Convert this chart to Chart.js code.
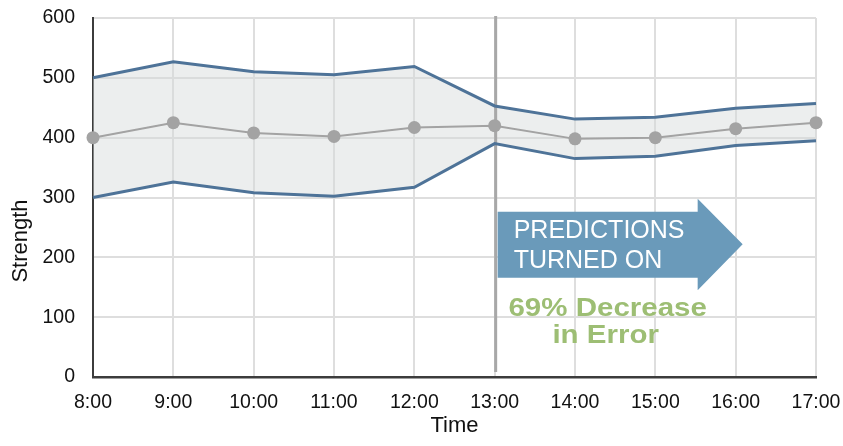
<!DOCTYPE html>
<html>
<head>
<meta charset="utf-8">
<script src="https://cdn.jsdelivr.net/npm/chart.js@4.4.1/dist/chart.umd.min.js"></script>
<style>
  html, body { margin: 0; padding: 0; background: #ffffff; }
  #wrap { width: 843px; height: 446px; position: relative; }
</style>
</head>
<body>
<div id="wrap"><canvas id="chart" width="843" height="446"></canvas></div>
<script>
// Hourly readings
const times = ['8:00', '9:00', '10:00', '11:00', '12:00', '13:00', '14:00', '15:00', '16:00', '17:00'];
const upperBound = [500, 527, 510, 505, 519, 453, 431, 434, 449, 457];
const strength   = [400, 425, 408, 402, 417, 420, 398, 400, 415, 425];
const lowerBound = [300, 326, 308, 302, 317, 390, 365, 369, 387, 395];
const yTicks = [0, 100, 200, 300, 400, 500, 600];

const switchTime = '13:00';
const calloutLines = ['PREDICTIONS', 'TURNED ON'];
const resultLines = ['69% Decrease', 'in Error'];

const FONT = "'Liberation Sans', Arial, sans-serif";
const BAND_LINE = '#4e7398';
const MID_GREY = '#a3a3a3';

// draws text stretched horizontally around its centre
function wideText(ctx, text, cx, baseline, stretch) {
  ctx.save();
  ctx.translate(cx, baseline);
  ctx.scale(stretch, 1);
  ctx.textAlign = 'center';
  ctx.textBaseline = 'alphabetic';
  ctx.fillText(text, 0, 0);
  ctx.restore();
}

// Marker line, arrow callout and axis titles
const overlay = {
  id: 'overlay',
  beforeDatasetsDraw(chart) {
    const { ctx, chartArea, scales: { x } } = chart;
    const xs = x.getPixelForValue(times.indexOf(switchTime));
    // vertical marker at the switch-over hour
    ctx.save();
    ctx.strokeStyle = '#a8a8a8';
    ctx.lineWidth = 3;
    ctx.beginPath();
    ctx.moveTo(xs + 1, chartArea.top - 2);
    ctx.lineTo(xs + 1, chartArea.bottom - 5);
    ctx.stroke();
    ctx.restore();
  },
  afterDatasetsDraw(chart) {
    const { ctx, chartArea, scales: { x, y } } = chart;
    const xs = x.getPixelForValue(times.indexOf(switchTime));
    ctx.save();

    // arrow
    const left = xs + 3;
    const bodyRight = xs + 203;
    const tip = xs + 248;
    ctx.fillStyle = '#6a9aba';
    ctx.beginPath();
    ctx.moveTo(left, y.getPixelForValue(276));
    ctx.lineTo(bodyRight, y.getPixelForValue(276));
    ctx.lineTo(bodyRight, y.getPixelForValue(298));
    ctx.lineTo(tip, y.getPixelForValue(222));
    ctx.lineTo(bodyRight, y.getPixelForValue(145));
    ctx.lineTo(bodyRight, y.getPixelForValue(166));
    ctx.lineTo(left, y.getPixelForValue(166));
    ctx.closePath();
    ctx.fill();

    ctx.fillStyle = '#ffffff';
    ctx.font = '25px ' + FONT;
    ctx.textAlign = 'left';
    ctx.textBaseline = 'alphabetic';
    ctx.fillText(calloutLines[0], xs + 19, 238);
    ctx.fillText(calloutLines[1], xs + 19, 268);

    ctx.fillStyle = '#9dbe74';
    ctx.font = 'bold 25px ' + FONT;
    wideText(ctx, resultLines[0], xs + 113, 316, 1.18);
    wideText(ctx, resultLines[1], xs + 111, 343, 1.18);

    // axis titles
    ctx.fillStyle = '#111111';
    ctx.font = '22px ' + FONT;
    ctx.textAlign = 'center';
    ctx.textBaseline = 'middle';
    ctx.fillText('Time', (chartArea.left + chartArea.right) / 2, 426);
    ctx.translate(21, 241);
    ctx.rotate(-Math.PI / 2);
    ctx.fillText('Strength', 0, 0);
    ctx.restore();
  }
};

new Chart(document.getElementById('chart'), {
  type: 'line',
  data: {
    labels: times,
    datasets: [
      {
        label: 'Upper',
        data: upperBound,
        borderColor: BAND_LINE,
        borderWidth: 3,
        pointRadius: 0,
        tension: 0,
        fill: '+2',
        backgroundColor: 'rgba(213,217,217,0.45)',
        clip: false
      },
      {
        label: 'Strength',
        data: strength,
        borderColor: MID_GREY,
        borderWidth: 2,
        pointRadius: 6.5,
        pointBackgroundColor: MID_GREY,
        pointBorderWidth: 0,
        tension: 0,
        fill: false,
        clip: false
      },
      {
        label: 'Lower',
        data: lowerBound,
        borderColor: BAND_LINE,
        borderWidth: 3,
        pointRadius: 0,
        tension: 0,
        fill: false,
        clip: false
      }
    ]
  },
  options: {
    responsive: false,
    animation: false,
    events: [],
    layout: { padding: { left: 0, right: 27, top: 18, bottom: 0 } },
    plugins: {
      legend: { display: false },
      tooltip: { enabled: false },
      title: { display: false },
      filler: { drawTime: 'beforeDatasetsDraw' }
    },
    scales: {
      x: {
        type: 'category',
        offset: false,
        afterFit(scale) {
          scale.height = 69;
          scale.paddingLeft = 0;
          scale.paddingRight = 0;
        },
        grid: { color: '#dedede', lineWidth: 2, drawTicks: false },
        border: { color: '#3c3c3c', width: 2.5 },
        ticks: {
          padding: 14,
          color: '#111111',
          font: { family: FONT, size: 19.5 },
          maxRotation: 0,
          autoSkip: false
        }
      },
      y: {
        min: 0,
        max: 600,
        afterFit(scale) {
          scale.width = 93;
          scale.paddingTop = 0;
          scale.paddingBottom = 0;
        },
        afterBuildTicks(scale) { scale.ticks = yTicks.map(v => ({ value: v })); },
        grid: { color: '#dedede', lineWidth: 2, drawTicks: false },
        border: { color: '#3c3c3c', width: 2 },
        ticks: {
          padding: 18,
          color: '#111111',
          font: { family: FONT, size: 19.5 }
        }
      }
    }
  },
  plugins: [overlay]
});
</script>
</body>
</html>
